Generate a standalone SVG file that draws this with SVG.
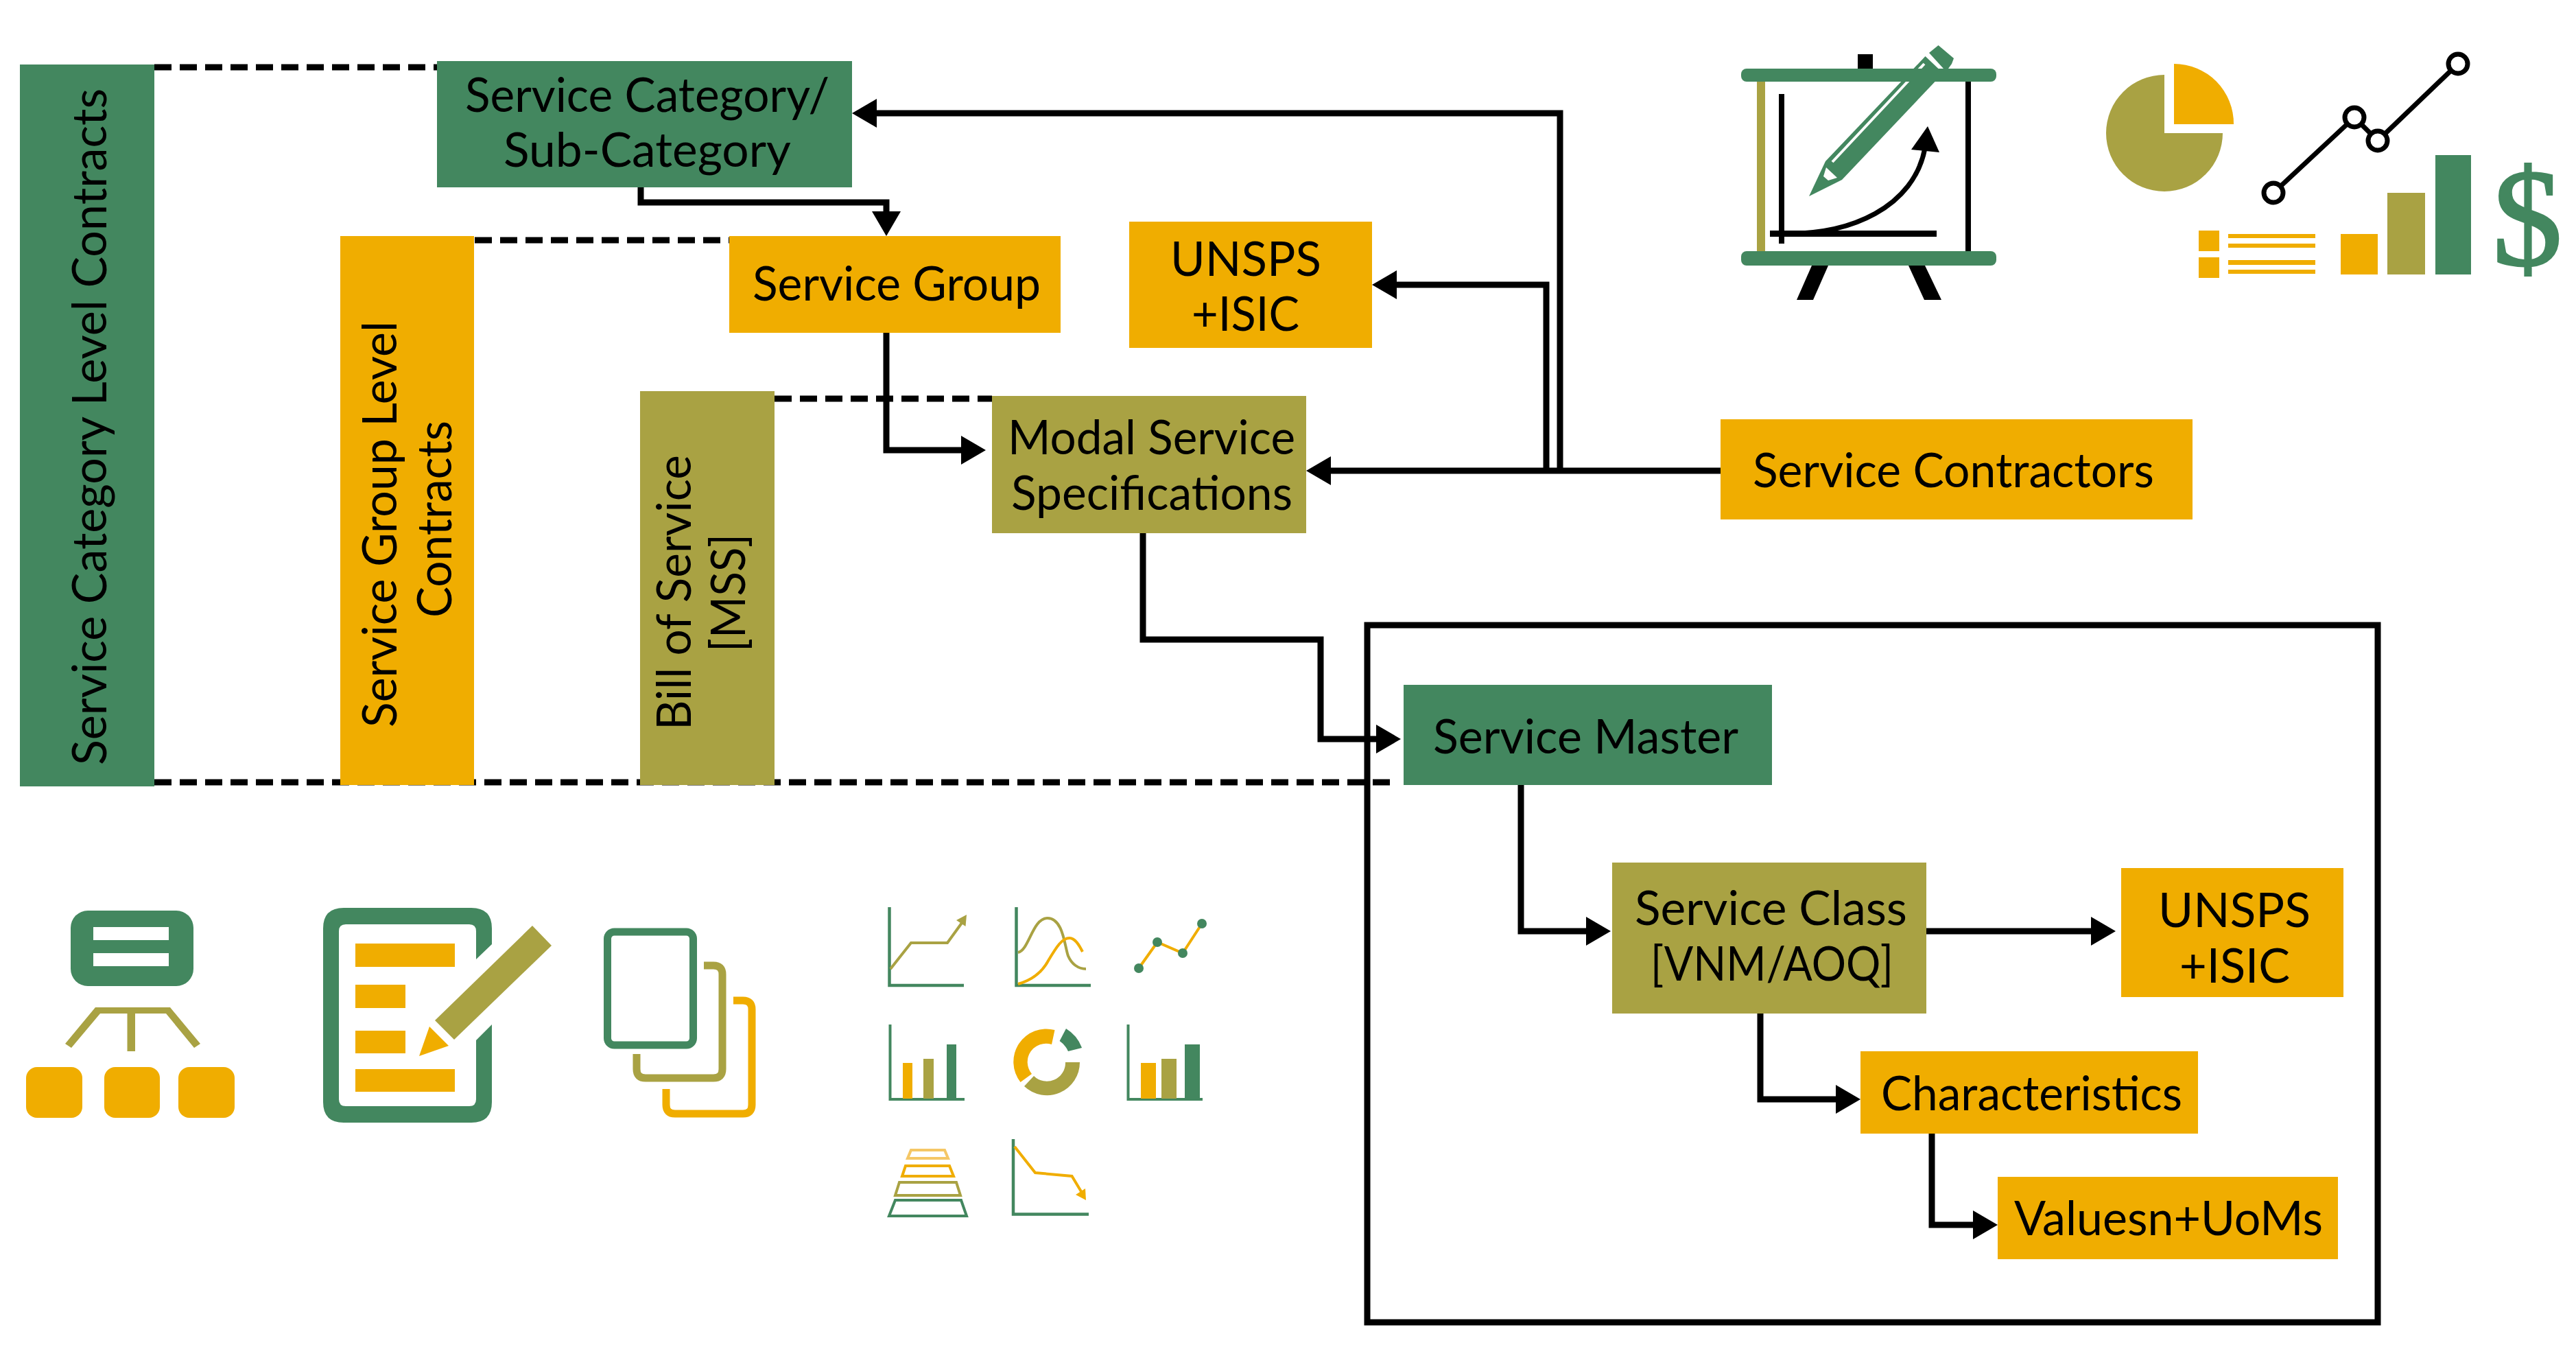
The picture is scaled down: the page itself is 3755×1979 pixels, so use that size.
<svg xmlns="http://www.w3.org/2000/svg" width="3755" height="1979" viewBox="0 0 3755 1979">
<style>
.g{fill:#43875f}.y{fill:#f0ad00}.o{fill:#a9a243}.k{fill:#000}.w{fill:#fff}
.sg{stroke:#43875f}.sy{stroke:#f0ad00}.so{stroke:#a9a243}.sk{stroke:#000}
.n{fill:none}
.t{font-family:"Lato","Noto Sans",sans-serif;font-size:69px;fill:#000}
.c{fill:none;stroke:#000;stroke-width:9}
.d{fill:none;stroke:#000;stroke-width:9;stroke-dasharray:25 12}
</style>
<defs>
<marker id="arr" markerUnits="userSpaceOnUse" markerWidth="36" markerHeight="42" refX="16" refY="21" orient="auto"><path d="M0 0L36 21L0 42Z"/></marker>
</defs>
<rect width="3755" height="1979" fill="#fff"/>
<g id="connectors">
<path class="d" d="M225 98H637"/>
<path class="d" d="M692 350H1063"/>
<path class="d" d="M1129 581H1446"/>
<path class="d" d="M225 1140H2037"/>
<path class="c" marker-end="url(#arr)" d="M2274 686V165H1262"/>
<path class="c" marker-end="url(#arr)" d="M2254 686V415H2020"/>
<path class="c" marker-end="url(#arr)" d="M2508 686H1924"/>
<path class="c" marker-end="url(#arr)" d="M934 273V295H1292V324"/>
<path class="c" marker-end="url(#arr)" d="M1292 485V656H1417"/>
<path class="c" marker-end="url(#arr)" d="M1666 777V932H1925V1077H2022"/>
<path class="c" marker-end="url(#arr)" d="M2217 1144V1357H2328"/>
<path class="c" marker-end="url(#arr)" d="M2808 1357H3064"/>
<path class="c" marker-end="url(#arr)" d="M2566 1477V1602H2692"/>
<path class="c" marker-end="url(#arr)" d="M2816 1652V1785H2892"/>
</g>
<g id="service-master-frame"><rect x="1993" y="911" width="1473" height="1016" class="n sk" stroke-width="9"/></g>
<g id="service-category-contracts"><rect x="29" y="94" width="196" height="1052" class="g"/><text class="t" transform="translate(155 1115) rotate(-90)" textLength="986" lengthAdjust="spacingAndGlyphs">Service Category Level Contracts</text></g>
<g id="service-group-contracts"><rect x="496" y="344" width="195" height="800" class="y"/><text class="t" transform="translate(578 1060) rotate(-90)" textLength="592" lengthAdjust="spacingAndGlyphs">Service Group Level</text><text class="t" transform="translate(658 900) rotate(-90)" textLength="287" lengthAdjust="spacingAndGlyphs">Contracts</text></g>
<g id="bill-of-service"><rect x="933" y="570" width="196" height="574" class="o"/><text class="t" transform="translate(1007 1064) rotate(-90)" textLength="401" lengthAdjust="spacingAndGlyphs">Bill of Service</text><text class="t" transform="translate(1086 950) rotate(-90)" textLength="172" lengthAdjust="spacingAndGlyphs">[MSS]</text></g>
<g id="service-category"><rect x="637" y="89" width="605" height="184" class="g"/><text class="t" x="678" y="163" textLength="531" lengthAdjust="spacingAndGlyphs">Service Category/</text><text class="t" x="734" y="243" textLength="419" lengthAdjust="spacingAndGlyphs">Sub-Category</text></g>
<g id="service-group"><rect x="1063" y="344" width="483" height="141" class="y"/><text class="t" x="1097" y="438" textLength="420" lengthAdjust="spacingAndGlyphs">Service Group</text></g>
<g id="unsps-top"><rect x="1646" y="323" width="354" height="184" class="y"/><text class="t" x="1706" y="402" textLength="220" lengthAdjust="spacingAndGlyphs">UNSPS</text><text class="t" x="1737" y="482" textLength="157" lengthAdjust="spacingAndGlyphs">+ISIC</text></g>
<g id="modal-service"><rect x="1446" y="577" width="458" height="200" class="o"/><text class="t" x="1469" y="662" textLength="419" lengthAdjust="spacingAndGlyphs">Modal Service</text><text class="t" x="1474" y="743" textLength="410" lengthAdjust="spacingAndGlyphs">Specifications</text></g>
<g id="service-contractors"><rect x="2508" y="611" width="688" height="146" class="y"/><text class="t" x="2555" y="710" textLength="585" lengthAdjust="spacingAndGlyphs">Service Contractors</text></g>
<g id="service-master"><rect x="2046" y="998" width="537" height="146" class="g"/><text class="t" x="2089" y="1098" textLength="445" lengthAdjust="spacingAndGlyphs">Service Master</text></g>
<g id="service-class"><rect x="2350" y="1257" width="458" height="220" class="o"/><text class="t" x="2383" y="1348" textLength="397" lengthAdjust="spacingAndGlyphs">Service Class</text><text class="t" x="2406" y="1429" textLength="354" lengthAdjust="spacingAndGlyphs">[VNM/AOQ]</text></g>
<g id="unsps-bottom"><rect x="3092" y="1265" width="324" height="188" class="y"/><text class="t" x="3146" y="1351" textLength="222" lengthAdjust="spacingAndGlyphs">UNSPS</text><text class="t" x="3177" y="1432" textLength="161" lengthAdjust="spacingAndGlyphs">+ISIC</text></g>
<g id="characteristics"><rect x="2712" y="1532" width="492" height="120" class="y"/><text class="t" x="2742" y="1618" textLength="439" lengthAdjust="spacingAndGlyphs">Characteristics</text></g>
<g id="values-uoms"><rect x="2912" y="1715" width="496" height="120" class="y"/><text class="t" x="2936" y="1800" textLength="450" lengthAdjust="spacingAndGlyphs">Valuesn+UoMs</text></g>

<g id="icon-easel">
<rect x="2708" y="79" width="22" height="22" class="k"/>
<rect x="2561" y="115" width="12" height="255" class="o"/>
<rect x="2865" y="115" width="8" height="255" class="k"/>
<rect x="2593" y="137" width="8" height="218" class="k"/>
<rect x="2580" y="336" width="243" height="9" class="k"/>
<path class="n sk" stroke-width="7" d="M2590 340C2700 345 2790 300 2806 216"/>
<path class="k" d="M2810 184L2786 218L2827 222Z"/>
<path class="g" d="M2637 286L2661 235L2806.500 82L2825.500 100L2820.600 119L2685 262Z"/>
<path class="n" stroke="#fff" stroke-width="4" d="M2671 236L2805 93"/>
<path class="w" d="M2662 244L2678 259L2665 263L2658 257Z"/>
<path class="g" d="M2812 77L2825.500 66L2848 85L2845 93L2840 100L2833 100Z"/>
<rect x="2538" y="100" width="372" height="19" rx="8" class="g"/>
<rect x="2538" y="366" width="372" height="21" rx="8" class="g"/>
<path class="k" d="M2641 387H2665L2643 437H2619Z"/>
<path class="k" d="M2782 387H2806L2830 437H2805Z"/>
</g>
<g id="icon-pie-line-bars">
<path class="o" d="M3155 109A85 85 0 1 0 3240 194H3155Z"/>
<path class="y" d="M3169 93A87 87 0 0 1 3256 181H3169Z"/>
<path class="n sk" stroke-width="7" d="M3314 281L3432 171L3466 205L3583 93"/>
<circle cx="3314" cy="281" r="14" class="w sk" stroke-width="7"/>
<circle cx="3432" cy="171" r="14" class="w sk" stroke-width="7"/>
<circle cx="3466" cy="205" r="14" class="w sk" stroke-width="7"/>
<circle cx="3583" cy="93" r="14" class="w sk" stroke-width="7"/>
<rect x="3205" y="336" width="30" height="30" class="y"/>
<rect x="3205" y="375" width="30" height="30" class="y"/>
<rect x="3248" y="341" width="127" height="6" class="y"/>
<rect x="3248" y="355" width="127" height="6" class="y"/>
<rect x="3248" y="379" width="127" height="7" class="y"/>
<rect x="3248" y="393" width="127" height="6" class="y"/>
<rect x="3412" y="341" width="54" height="59" class="y"/>
<rect x="3480" y="281" width="55" height="119" class="o"/>
<rect x="3550" y="226" width="52" height="174" class="g"/>
<text x="3684" y="386" text-anchor="middle" font-family="'Liberation Serif',serif" font-size="204" class="g sg" stroke-width="3">$</text>
</g>
<g id="icon-hierarchy">
<rect x="103" y="1327" width="179" height="110" rx="25" class="g"/>
<rect x="136" y="1351" width="110" height="19" class="w"/>
<rect x="136" y="1389" width="110" height="19" class="w"/>
<path class="o" d="M95 1521L139 1468H248L292 1521L283 1527L242 1477H197V1532H185.500V1477H146L104 1527Z"/>
<rect x="38" y="1555" width="82" height="74" rx="16" class="y"/>
<rect x="152" y="1555" width="81" height="74" rx="16" class="y"/>
<rect x="260" y="1555" width="82" height="74" rx="16" class="y"/>
</g>
<g id="icon-form">
<path class="g" fill-rule="evenodd" d="M501 1323H687Q717 1323 717 1353V1376L694 1398V1357Q694 1347 684 1347H504Q494 1347 494 1357V1602Q494 1612 504 1612H684Q694 1612 694 1602V1516L717 1493V1606Q717 1636 687 1636H501Q471 1636 471 1606V1353Q471 1323 501 1323Z"/>
<rect x="518" y="1375" width="145" height="34" class="y"/>
<rect x="518" y="1435" width="73" height="34" class="y"/>
<rect x="518" y="1502" width="73" height="33" class="y"/>
<rect x="518" y="1558" width="145" height="33" class="y"/>
<path class="o" d="M776 1349L804 1378L662 1515L634 1487Z"/>
<path class="y" d="M626 1496L654 1524L611 1539Z"/>
</g>
<g id="icon-copies">
<rect x="885.500" y="1358" width="125" height="165" rx="10" class="n sg" stroke-width="11"/>
<path class="n so" stroke-width="11" d="M1026 1407H1040Q1053 1407 1053 1420V1558Q1053 1571 1040 1571H941Q928 1571 928 1558V1536"/>
<path class="n sy" stroke-width="11" d="M1069 1458H1083Q1096 1458 1096 1471V1610Q1096 1623 1083 1623H984Q971 1623 971 1610V1587"/>
</g>
<g id="chart-rise">
<path class="n sg" stroke-width="4.500" d="M1296.500 1322V1436H1405"/>
<path class="n so" stroke-width="4" d="M1298 1412L1328 1374H1381L1402 1345"/>
<path class="o" d="M1409 1333L1394 1341L1407.500 1350Z"/>
</g>
<g id="chart-curves">
<path class="n sg" stroke-width="4.500" d="M1481.500 1322V1436H1590"/>
<path class="n so" stroke-width="4" d="M1484 1388C1500 1385 1505 1338 1527 1338C1550 1338 1552 1380 1557 1393C1562 1405 1572 1412 1583 1412"/>
<path class="n sy" stroke-width="4" d="M1484 1434C1505 1428 1520 1415 1528 1400C1540 1380 1548 1367 1559 1367C1567 1367 1573 1377 1578 1387"/>
</g>
<g id="chart-points">
<path class="n sy" stroke-width="4" d="M1660 1411L1687 1373L1724 1389L1752 1346"/>
<circle cx="1660" cy="1411" r="7" class="g"/>
<circle cx="1687" cy="1373" r="7" class="g"/>
<circle cx="1724" cy="1389" r="7" class="g"/>
<circle cx="1752" cy="1346" r="7" class="g"/>
</g>
<g id="chart-bars-a">
<path class="n sg" stroke-width="4" d="M1297.500 1493V1602H1406"/>
<rect x="1316" y="1549" width="14" height="52" class="y"/>
<rect x="1346" y="1543" width="15" height="58" class="o"/>
<rect x="1380" y="1522" width="14" height="79" class="g"/>
</g>
<g id="chart-donut">
<path class="y" d="M1537.500 1501A48 48 0 0 0 1487.500 1577L1504 1565A27 27 0 0 1 1533 1522Z"/>
<path class="o" d="M1574 1548A48 48 0 0 1 1493 1583L1507 1568A27 27 0 0 0 1553 1548Z"/>
<path class="g" d="M1554 1499A55 55 0 0 1 1577 1527L1557 1532A35 35 0 0 0 1544.600 1517Z"/>
</g>
<g id="chart-bars-b">
<path class="n sg" stroke-width="4" d="M1644.500 1493V1602H1753"/>
<rect x="1663" y="1549" width="22" height="52" class="y"/>
<rect x="1693" y="1543" width="22" height="58" class="o"/>
<rect x="1727" y="1522" width="22" height="79" class="g"/>
</g>
<g id="chart-funnel">
<path class="n" stroke="#f5c766" stroke-width="4" d="M1328 1676H1377L1382 1688H1323Z"/>
<path class="n sy" stroke-width="4" d="M1320 1699H1384L1390 1714H1315Z"/>
<path class="n so" stroke-width="4" d="M1311 1723H1394L1400 1742H1305Z"/>
<path class="n sg" stroke-width="4" d="M1305 1749H1401L1409 1772H1296Z"/>
</g>
<g id="chart-fall">
<path class="n sg" stroke-width="4.500" d="M1477 1660V1769.500H1587"/>
<path class="n sy" stroke-width="4" d="M1479 1671L1509 1709L1562.500 1714L1577 1738"/>
<path class="y" d="M1583 1749L1568 1741L1582 1732Z"/>
</g>
</svg>
